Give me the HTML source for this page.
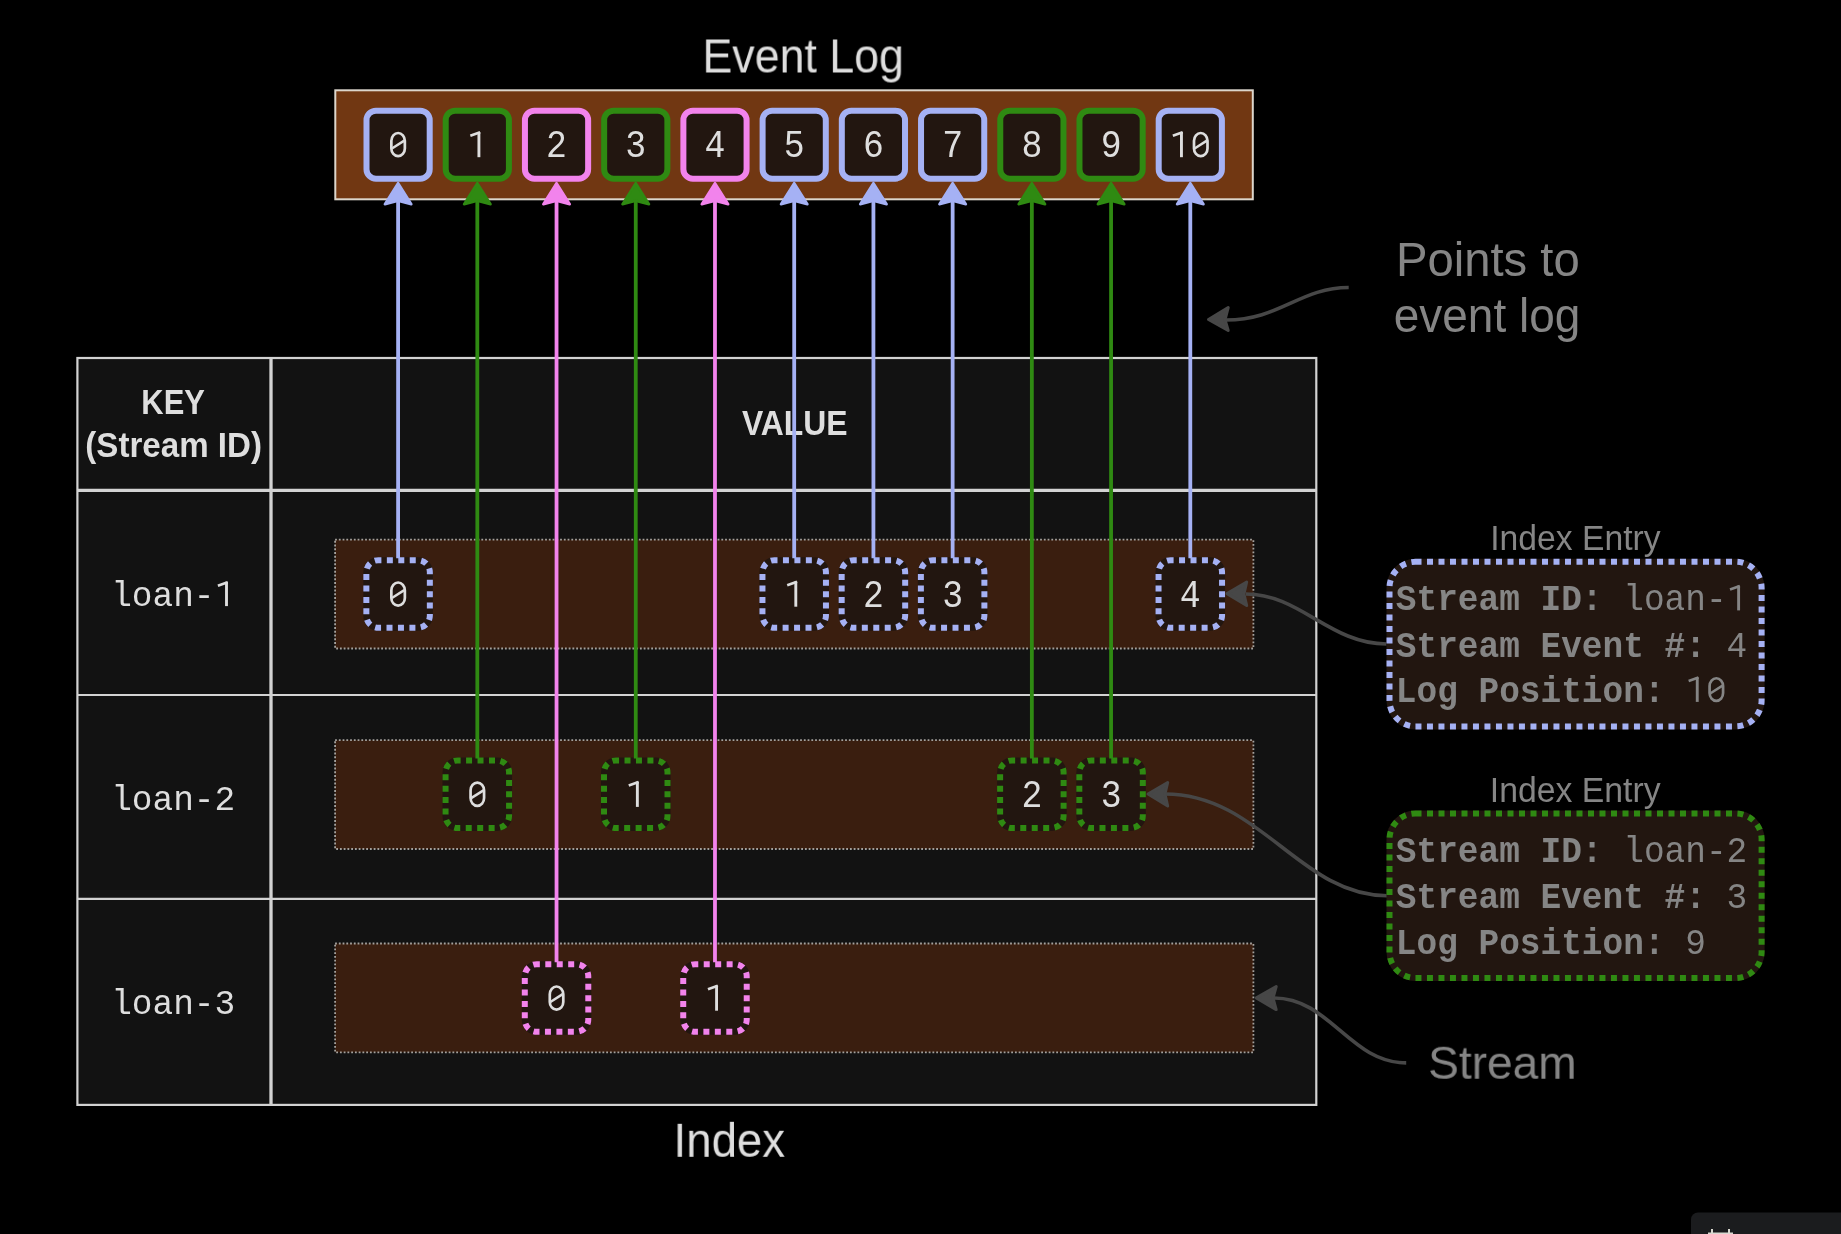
<!DOCTYPE html>
<html><head><meta charset="utf-8"><style>
html,body{margin:0;padding:0;background:#000;width:1841px;height:1234px;overflow:hidden}
svg{display:block;will-change:transform}
</style></head><body>
<svg width="1841" height="1234" viewBox="0 0 1841 1234">
<rect x="77.4" y="358" width="1238.9" height="746.9" fill="#121212"/>
<g stroke="#d2d2d2" fill="none">
<rect x="77.4" y="358" width="1238.9" height="746.9" stroke-width="2.2"/>
<line x1="271" y1="358" x2="271" y2="1105" stroke-width="3.3"/>
<line x1="77.4" y1="490.3" x2="1316.3" y2="490.3" stroke-width="3.3"/>
<line x1="77.4" y1="695" x2="1316.3" y2="695" stroke-width="2.2"/>
<line x1="77.4" y1="898.9" x2="1316.3" y2="898.9" stroke-width="2.2"/>
</g>
<text transform="matrix(0.8825 0 0 1 141.34 414.1)" x="0" y="0" style="font-family:'Liberation Sans', sans-serif;font-weight:700;font-size:35.03px" fill="#dedede">KEY</text>
<text transform="matrix(0.9458 0 0 1 85.34 456.9)" x="0" y="0" style="font-family:'Liberation Sans', sans-serif;font-weight:700;font-size:35.03px" fill="#dedede">(Stream ID)</text>
<text transform="matrix(0.9106 0 0 1 741.88 435)" x="0" y="0" style="font-family:'Liberation Sans', sans-serif;font-weight:700;font-size:35.03px" fill="#dedede">VALUE</text>
<text transform="matrix(1 0 0 1.03 111.16 606.1)" x="0" y="0" xml:space="preserve" style="font-family:'Liberation Mono', monospace;font-size:34.46px;white-space:pre" fill="#dedede"><tspan font-weight="400">loan-&#160;</tspan></text>
<path d="M226.50,581.80 V606.10" stroke="#dedede" stroke-width="2.90" fill="none"/>
<path d="M227.70,582.20 L217.90,585.70" stroke="#dedede" stroke-width="2.70" fill="none"/>
<text transform="matrix(1 0 0 1.03 111.16 810.1)" x="0" y="0" xml:space="preserve" style="font-family:'Liberation Mono', monospace;font-size:34.46px;white-space:pre" fill="#dedede"><tspan font-weight="400">loan-2</tspan></text>
<text transform="matrix(1 0 0 1.03 111.16 1014)" x="0" y="0" xml:space="preserve" style="font-family:'Liberation Mono', monospace;font-size:34.46px;white-space:pre" fill="#dedede"><tspan font-weight="400">loan-3</tspan></text>
<rect x="335.1" y="539.7" width="918.3" height="108.8" fill="#3a1e0f"/>
<rect x="335.1" y="539.7" width="918.3" height="108.8" fill="none" stroke="#a4a19d" stroke-width="1.8" stroke-dasharray="1.8 1.95"/>
<rect x="335.1" y="740.2" width="918.3" height="108.8" fill="#3a1e0f"/>
<rect x="335.1" y="740.2" width="918.3" height="108.8" fill="none" stroke="#a4a19d" stroke-width="1.8" stroke-dasharray="1.8 1.95"/>
<rect x="335.1" y="943.5" width="918.3" height="108.8" fill="#3a1e0f"/>
<rect x="335.1" y="943.5" width="918.3" height="108.8" fill="none" stroke="#a4a19d" stroke-width="1.8" stroke-dasharray="1.8 1.95"/>
<rect x="335.3" y="90.3" width="917.5" height="109" fill="#713712" stroke="#dcd6cc" stroke-width="2"/>
<rect x="366.50" y="110.7" width="63.2" height="68" rx="9.5" fill="#221610" stroke="#a5b1f4" stroke-width="6"/>
<text transform="matrix(1 0 0 1.1 387.65 157.2)" x="0" y="0" xml:space="preserve" style="font-family:'Liberation Mono', monospace;font-size:34.83px;white-space:pre" fill="#dedede"><tspan font-weight="400">&#160;</tspan></text>
<rect x="391.35" y="133.00" width="13.50" height="23.15" rx="6.75" ry="7.76" stroke="#dedede" stroke-width="2.70" fill="none"/>
<path d="M391.95,148.48 L404.25,140.68" stroke="#dedede" stroke-width="2.50" fill="none"/>
<rect x="445.72" y="110.7" width="63.2" height="68" rx="9.5" fill="#221610" stroke="#2f8a12" stroke-width="6"/>
<text transform="matrix(1 0 0 1.1 466.87 157.2)" x="0" y="0" xml:space="preserve" style="font-family:'Liberation Mono', monospace;font-size:34.83px;white-space:pre" fill="#dedede"><tspan font-weight="400">&#160;</tspan></text>
<path d="M478.92,131.95 V157.20" stroke="#dedede" stroke-width="2.90" fill="none"/>
<path d="M480.12,132.35 L470.32,135.85" stroke="#dedede" stroke-width="2.70" fill="none"/>
<rect x="524.94" y="110.7" width="63.2" height="68" rx="9.5" fill="#221610" stroke="#f283ec" stroke-width="6"/>
<text transform="matrix(1 0 0 1.1 546.09 157.2)" x="0" y="0" xml:space="preserve" style="font-family:'Liberation Mono', monospace;font-size:34.83px;white-space:pre" fill="#dedede"><tspan font-weight="400">2</tspan></text>
<rect x="604.16" y="110.7" width="63.2" height="68" rx="9.5" fill="#221610" stroke="#2f8a12" stroke-width="6"/>
<text transform="matrix(1 0 0 1.1 625.31 157.2)" x="0" y="0" xml:space="preserve" style="font-family:'Liberation Mono', monospace;font-size:34.83px;white-space:pre" fill="#dedede"><tspan font-weight="400">3</tspan></text>
<rect x="683.38" y="110.7" width="63.2" height="68" rx="9.5" fill="#221610" stroke="#f283ec" stroke-width="6"/>
<text transform="matrix(1 0 0 1.1 704.53 157.2)" x="0" y="0" xml:space="preserve" style="font-family:'Liberation Mono', monospace;font-size:34.83px;white-space:pre" fill="#dedede"><tspan font-weight="400">4</tspan></text>
<rect x="762.60" y="110.7" width="63.2" height="68" rx="9.5" fill="#221610" stroke="#a5b1f4" stroke-width="6"/>
<text transform="matrix(1 0 0 1.1 783.75 157.2)" x="0" y="0" xml:space="preserve" style="font-family:'Liberation Mono', monospace;font-size:34.83px;white-space:pre" fill="#dedede"><tspan font-weight="400">5</tspan></text>
<rect x="841.82" y="110.7" width="63.2" height="68" rx="9.5" fill="#221610" stroke="#a5b1f4" stroke-width="6"/>
<text transform="matrix(1 0 0 1.1 862.97 157.2)" x="0" y="0" xml:space="preserve" style="font-family:'Liberation Mono', monospace;font-size:34.83px;white-space:pre" fill="#dedede"><tspan font-weight="400">6</tspan></text>
<rect x="921.04" y="110.7" width="63.2" height="68" rx="9.5" fill="#221610" stroke="#a5b1f4" stroke-width="6"/>
<text transform="matrix(1 0 0 1.1 942.19 157.2)" x="0" y="0" xml:space="preserve" style="font-family:'Liberation Mono', monospace;font-size:34.83px;white-space:pre" fill="#dedede"><tspan font-weight="400">7</tspan></text>
<rect x="1000.26" y="110.7" width="63.2" height="68" rx="9.5" fill="#221610" stroke="#2f8a12" stroke-width="6"/>
<text transform="matrix(1 0 0 1.1 1021.41 157.2)" x="0" y="0" xml:space="preserve" style="font-family:'Liberation Mono', monospace;font-size:34.83px;white-space:pre" fill="#dedede"><tspan font-weight="400">8</tspan></text>
<rect x="1079.48" y="110.7" width="63.2" height="68" rx="9.5" fill="#221610" stroke="#2f8a12" stroke-width="6"/>
<text transform="matrix(1 0 0 1.1 1100.63 157.2)" x="0" y="0" xml:space="preserve" style="font-family:'Liberation Mono', monospace;font-size:34.83px;white-space:pre" fill="#dedede"><tspan font-weight="400">9</tspan></text>
<rect x="1158.70" y="110.7" width="63.2" height="68" rx="9.5" fill="#221610" stroke="#a5b1f4" stroke-width="6"/>
<text transform="matrix(1 0 0 1.1 1169.40 157.2)" x="0" y="0" xml:space="preserve" style="font-family:'Liberation Mono', monospace;font-size:34.83px;white-space:pre" fill="#dedede"><tspan font-weight="400">&#160;&#160;</tspan></text>
<path d="M1181.45,131.95 V157.20" stroke="#dedede" stroke-width="2.90" fill="none"/>
<path d="M1182.65,132.35 L1172.85,135.85" stroke="#dedede" stroke-width="2.70" fill="none"/>
<rect x="1194.00" y="133.00" width="13.50" height="23.15" rx="6.75" ry="7.76" stroke="#dedede" stroke-width="2.70" fill="none"/>
<path d="M1194.60,148.48 L1206.90,140.68" stroke="#dedede" stroke-width="2.50" fill="none"/>
<text transform="matrix(0.9468 0 0 1 702.42 72.5)" x="0" y="0" style="font-family:'Liberation Sans', sans-serif;font-weight:400;font-size:47.24px" fill="#dedede">Event Log</text>
<rect x="363.35" y="557.2" width="69.5" height="73.6" rx="15" fill="#221610"/>
<rect x="366.35" y="560.2" width="63.5" height="67.6" rx="12" fill="none" stroke="#a5b1f4" stroke-width="6" stroke-dasharray="6 5.45" stroke-dashoffset="2.95"/>
<text transform="matrix(1 0 0 1.1 387.65 606.7)" x="0" y="0" xml:space="preserve" style="font-family:'Liberation Mono', monospace;font-size:34.83px;white-space:pre" fill="#dedede"><tspan font-weight="400">&#160;</tspan></text>
<rect x="391.35" y="582.50" width="13.50" height="23.15" rx="6.75" ry="7.76" stroke="#dedede" stroke-width="2.70" fill="none"/>
<path d="M391.95,597.98 L404.25,590.18" stroke="#dedede" stroke-width="2.50" fill="none"/>
<rect x="759.45" y="557.2" width="69.5" height="73.6" rx="15" fill="#221610"/>
<rect x="762.45" y="560.2" width="63.5" height="67.6" rx="12" fill="none" stroke="#a5b1f4" stroke-width="6" stroke-dasharray="6 5.45" stroke-dashoffset="2.95"/>
<text transform="matrix(1 0 0 1.1 783.75 606.7)" x="0" y="0" xml:space="preserve" style="font-family:'Liberation Mono', monospace;font-size:34.83px;white-space:pre" fill="#dedede"><tspan font-weight="400">&#160;</tspan></text>
<path d="M795.80,581.45 V606.70" stroke="#dedede" stroke-width="2.90" fill="none"/>
<path d="M797.00,581.85 L787.20,585.35" stroke="#dedede" stroke-width="2.70" fill="none"/>
<rect x="838.67" y="557.2" width="69.5" height="73.6" rx="15" fill="#221610"/>
<rect x="841.67" y="560.2" width="63.5" height="67.6" rx="12" fill="none" stroke="#a5b1f4" stroke-width="6" stroke-dasharray="6 5.45" stroke-dashoffset="2.95"/>
<text transform="matrix(1 0 0 1.1 862.97 606.7)" x="0" y="0" xml:space="preserve" style="font-family:'Liberation Mono', monospace;font-size:34.83px;white-space:pre" fill="#dedede"><tspan font-weight="400">2</tspan></text>
<rect x="917.89" y="557.2" width="69.5" height="73.6" rx="15" fill="#221610"/>
<rect x="920.89" y="560.2" width="63.5" height="67.6" rx="12" fill="none" stroke="#a5b1f4" stroke-width="6" stroke-dasharray="6 5.45" stroke-dashoffset="2.95"/>
<text transform="matrix(1 0 0 1.1 942.19 606.7)" x="0" y="0" xml:space="preserve" style="font-family:'Liberation Mono', monospace;font-size:34.83px;white-space:pre" fill="#dedede"><tspan font-weight="400">3</tspan></text>
<rect x="1155.55" y="557.2" width="69.5" height="73.6" rx="15" fill="#221610"/>
<rect x="1158.55" y="560.2" width="63.5" height="67.6" rx="12" fill="none" stroke="#a5b1f4" stroke-width="6" stroke-dasharray="6 5.45" stroke-dashoffset="2.95"/>
<text transform="matrix(1 0 0 1.1 1179.85 606.7)" x="0" y="0" xml:space="preserve" style="font-family:'Liberation Mono', monospace;font-size:34.83px;white-space:pre" fill="#dedede"><tspan font-weight="400">4</tspan></text>
<rect x="442.57" y="757.4" width="69.5" height="73.6" rx="15" fill="#221610"/>
<rect x="445.57" y="760.4" width="63.5" height="67.6" rx="12" fill="none" stroke="#2f8a12" stroke-width="6" stroke-dasharray="6 5.45" stroke-dashoffset="2.95"/>
<text transform="matrix(1 0 0 1.1 466.87 806.9)" x="0" y="0" xml:space="preserve" style="font-family:'Liberation Mono', monospace;font-size:34.83px;white-space:pre" fill="#dedede"><tspan font-weight="400">&#160;</tspan></text>
<rect x="470.57" y="782.70" width="13.50" height="23.15" rx="6.75" ry="7.76" stroke="#dedede" stroke-width="2.70" fill="none"/>
<path d="M471.17,798.18 L483.47,790.38" stroke="#dedede" stroke-width="2.50" fill="none"/>
<rect x="601.01" y="757.4" width="69.5" height="73.6" rx="15" fill="#221610"/>
<rect x="604.01" y="760.4" width="63.5" height="67.6" rx="12" fill="none" stroke="#2f8a12" stroke-width="6" stroke-dasharray="6 5.45" stroke-dashoffset="2.95"/>
<text transform="matrix(1 0 0 1.1 625.31 806.9)" x="0" y="0" xml:space="preserve" style="font-family:'Liberation Mono', monospace;font-size:34.83px;white-space:pre" fill="#dedede"><tspan font-weight="400">&#160;</tspan></text>
<path d="M637.36,781.65 V806.90" stroke="#dedede" stroke-width="2.90" fill="none"/>
<path d="M638.56,782.05 L628.76,785.55" stroke="#dedede" stroke-width="2.70" fill="none"/>
<rect x="997.11" y="757.4" width="69.5" height="73.6" rx="15" fill="#221610"/>
<rect x="1000.11" y="760.4" width="63.5" height="67.6" rx="12" fill="none" stroke="#2f8a12" stroke-width="6" stroke-dasharray="6 5.45" stroke-dashoffset="2.95"/>
<text transform="matrix(1 0 0 1.1 1021.41 806.9)" x="0" y="0" xml:space="preserve" style="font-family:'Liberation Mono', monospace;font-size:34.83px;white-space:pre" fill="#dedede"><tspan font-weight="400">2</tspan></text>
<rect x="1076.33" y="757.4" width="69.5" height="73.6" rx="15" fill="#221610"/>
<rect x="1079.33" y="760.4" width="63.5" height="67.6" rx="12" fill="none" stroke="#2f8a12" stroke-width="6" stroke-dasharray="6 5.45" stroke-dashoffset="2.95"/>
<text transform="matrix(1 0 0 1.1 1100.63 806.9)" x="0" y="0" xml:space="preserve" style="font-family:'Liberation Mono', monospace;font-size:34.83px;white-space:pre" fill="#dedede"><tspan font-weight="400">3</tspan></text>
<rect x="521.79" y="961.2" width="69.5" height="73.6" rx="15" fill="#221610"/>
<rect x="524.79" y="964.2" width="63.5" height="67.6" rx="12" fill="none" stroke="#f283ec" stroke-width="6" stroke-dasharray="6 5.45" stroke-dashoffset="2.95"/>
<text transform="matrix(1 0 0 1.1 546.09 1010.7)" x="0" y="0" xml:space="preserve" style="font-family:'Liberation Mono', monospace;font-size:34.83px;white-space:pre" fill="#dedede"><tspan font-weight="400">&#160;</tspan></text>
<rect x="549.79" y="986.50" width="13.50" height="23.15" rx="6.75" ry="7.76" stroke="#dedede" stroke-width="2.70" fill="none"/>
<path d="M550.39,1001.98 L562.69,994.18" stroke="#dedede" stroke-width="2.50" fill="none"/>
<rect x="680.23" y="961.2" width="69.5" height="73.6" rx="15" fill="#221610"/>
<rect x="683.23" y="964.2" width="63.5" height="67.6" rx="12" fill="none" stroke="#f283ec" stroke-width="6" stroke-dasharray="6 5.45" stroke-dashoffset="2.95"/>
<text transform="matrix(1 0 0 1.1 704.53 1010.7)" x="0" y="0" xml:space="preserve" style="font-family:'Liberation Mono', monospace;font-size:34.83px;white-space:pre" fill="#dedede"><tspan font-weight="400">&#160;</tspan></text>
<path d="M716.58,985.45 V1010.70" stroke="#dedede" stroke-width="2.90" fill="none"/>
<path d="M717.78,985.85 L707.98,989.35" stroke="#dedede" stroke-width="2.70" fill="none"/>
<line x1="398.1" y1="558.2" x2="398.1" y2="200" stroke="#a5b1f4" stroke-width="3.8"/>
<polygon points="398.1,183.2 384.90000000000003,204.2 398.1,200.8 411.3,204.2" fill="#a5b1f4" stroke="#a5b1f4" stroke-width="2.6" stroke-linejoin="round"/>
<line x1="794.2" y1="558.2" x2="794.2" y2="200" stroke="#a5b1f4" stroke-width="3.8"/>
<polygon points="794.2,183.2 781.0,204.2 794.2,200.8 807.4000000000001,204.2" fill="#a5b1f4" stroke="#a5b1f4" stroke-width="2.6" stroke-linejoin="round"/>
<line x1="873.4200000000001" y1="558.2" x2="873.4200000000001" y2="200" stroke="#a5b1f4" stroke-width="3.8"/>
<polygon points="873.4200000000001,183.2 860.22,204.2 873.4200000000001,200.8 886.6200000000001,204.2" fill="#a5b1f4" stroke="#a5b1f4" stroke-width="2.6" stroke-linejoin="round"/>
<line x1="952.64" y1="558.2" x2="952.64" y2="200" stroke="#a5b1f4" stroke-width="3.8"/>
<polygon points="952.64,183.2 939.4399999999999,204.2 952.64,200.8 965.84,204.2" fill="#a5b1f4" stroke="#a5b1f4" stroke-width="2.6" stroke-linejoin="round"/>
<line x1="1190.3000000000002" y1="558.2" x2="1190.3000000000002" y2="200" stroke="#a5b1f4" stroke-width="3.8"/>
<polygon points="1190.3000000000002,183.2 1177.1000000000001,204.2 1190.3000000000002,200.8 1203.5000000000002,204.2" fill="#a5b1f4" stroke="#a5b1f4" stroke-width="2.6" stroke-linejoin="round"/>
<line x1="477.32000000000005" y1="758.4" x2="477.32000000000005" y2="200" stroke="#2f8a12" stroke-width="3.8"/>
<polygon points="477.32000000000005,183.2 464.12000000000006,204.2 477.32000000000005,200.8 490.52000000000004,204.2" fill="#2f8a12" stroke="#2f8a12" stroke-width="2.6" stroke-linejoin="round"/>
<line x1="635.76" y1="758.4" x2="635.76" y2="200" stroke="#2f8a12" stroke-width="3.8"/>
<polygon points="635.76,183.2 622.56,204.2 635.76,200.8 648.96,204.2" fill="#2f8a12" stroke="#2f8a12" stroke-width="2.6" stroke-linejoin="round"/>
<line x1="1031.8600000000001" y1="758.4" x2="1031.8600000000001" y2="200" stroke="#2f8a12" stroke-width="3.8"/>
<polygon points="1031.8600000000001,183.2 1018.6600000000001,204.2 1031.8600000000001,200.8 1045.0600000000002,204.2" fill="#2f8a12" stroke="#2f8a12" stroke-width="2.6" stroke-linejoin="round"/>
<line x1="1111.08" y1="758.4" x2="1111.08" y2="200" stroke="#2f8a12" stroke-width="3.8"/>
<polygon points="1111.08,183.2 1097.8799999999999,204.2 1111.08,200.8 1124.28,204.2" fill="#2f8a12" stroke="#2f8a12" stroke-width="2.6" stroke-linejoin="round"/>
<line x1="556.54" y1="962.2" x2="556.54" y2="200" stroke="#f283ec" stroke-width="3.8"/>
<polygon points="556.54,183.2 543.3399999999999,204.2 556.54,200.8 569.74,204.2" fill="#f283ec" stroke="#f283ec" stroke-width="2.6" stroke-linejoin="round"/>
<line x1="714.98" y1="962.2" x2="714.98" y2="200" stroke="#f283ec" stroke-width="3.8"/>
<polygon points="714.98,183.2 701.78,204.2 714.98,200.8 728.1800000000001,204.2" fill="#f283ec" stroke="#f283ec" stroke-width="2.6" stroke-linejoin="round"/>
<path d="M1348.7,287.5 C1300,287.5 1280,320 1226,320" fill="none" stroke="#474747" stroke-width="3.6"/>
<polygon points="1208.5,319.5 1228.2,307.5 1225,319.8 1228.2,330.5" fill="#474747" stroke="#474747" stroke-width="3" stroke-linejoin="round"/>
<path d="M1386.5,644 C1330,644 1300,594 1246,594" fill="none" stroke="#474747" stroke-width="3.6"/>
<polygon points="1227,593.6 1246.7,582 1244,594 1246.7,605.5" fill="#474747" stroke="#474747" stroke-width="3" stroke-linejoin="round"/>
<path d="M1387,895.7 C1300,895.7 1260,794 1165,794" fill="none" stroke="#474747" stroke-width="3.6"/>
<polygon points="1148,794 1167.7,782.5 1165,794 1167.7,806" fill="#474747" stroke="#474747" stroke-width="3" stroke-linejoin="round"/>
<path d="M1406.2,1062.9 C1350,1062.9 1330,998 1274,998" fill="none" stroke="#474747" stroke-width="3.6"/>
<polygon points="1256.3,997.9 1276.2,986.6 1273,998 1276.2,1009.6" fill="#474747" stroke="#474747" stroke-width="3" stroke-linejoin="round"/>
<text transform="matrix(0.9939 0 0 1 1395.92 275.6)" x="0" y="0" style="font-family:'Liberation Sans', sans-serif;font-weight:400;font-size:47.53px" fill="#858585">Points to</text>
<text transform="matrix(0.9678 0 0 1 1393.66 331.8)" x="0" y="0" style="font-family:'Liberation Sans', sans-serif;font-weight:400;font-size:47.53px" fill="#858585">event log</text>
<text transform="matrix(0.9612 0 0 1 1490.27 550)" x="0" y="0" style="font-family:'Liberation Sans', sans-serif;font-weight:400;font-size:35.03px" fill="#858585">Index Entry</text>
<rect x="1386.5" y="558.8" width="378.1" height="170.6" rx="29" fill="#221610"/>
<rect x="1389.5" y="561.8" width="372.1" height="164.6" rx="26" fill="none" stroke="#a5b1f4" stroke-width="6" stroke-dasharray="6 5.5"/>
<text transform="matrix(1 0 0 1.088 1395.80 610.4)" x="0" y="0" xml:space="preserve" style="font-family:'Liberation Mono', monospace;font-size:34.46px;white-space:pre" fill="#858585"><tspan font-weight="700">Stream ID:</tspan><tspan font-weight="400"> loan-&#160;</tspan></text>
<path d="M1738.61,585.69 V610.40" stroke="#858585" stroke-width="2.90" fill="none"/>
<path d="M1739.81,586.09 L1730.01,589.59" stroke="#858585" stroke-width="2.70" fill="none"/>
<text transform="matrix(1 0 0 1.088 1395.80 656.6)" x="0" y="0" xml:space="preserve" style="font-family:'Liberation Mono', monospace;font-size:34.46px;white-space:pre" fill="#858585"><tspan font-weight="700">Stream Event #:</tspan><tspan font-weight="400"> 4</tspan></text>
<text transform="matrix(1 0 0 1.088 1395.80 701.9)" x="0" y="0" xml:space="preserve" style="font-family:'Liberation Mono', monospace;font-size:34.46px;white-space:pre" fill="#858585"><tspan font-weight="700">Log Position:</tspan><tspan font-weight="400"> &#160;&#160;</tspan></text>
<path d="M1697.25,677.19 V701.90" stroke="#858585" stroke-width="2.90" fill="none"/>
<path d="M1698.45,677.59 L1688.65,681.09" stroke="#858585" stroke-width="2.70" fill="none"/>
<rect x="1709.58" y="678.24" width="13.50" height="22.61" rx="6.75" ry="7.76" stroke="#858585" stroke-width="2.70" fill="none"/>
<path d="M1710.18,693.45 L1722.48,685.65" stroke="#858585" stroke-width="2.50" fill="none"/>
<text transform="matrix(0.9641 0 0 1 1489.76 801.7)" x="0" y="0" style="font-family:'Liberation Sans', sans-serif;font-weight:400;font-size:35.03px" fill="#858585">Index Entry</text>
<rect x="1386.5" y="810.4" width="378.1" height="170.6" rx="29" fill="#221610"/>
<rect x="1389.5" y="813.4" width="372.1" height="164.6" rx="26" fill="none" stroke="#2f8a12" stroke-width="6" stroke-dasharray="6 5.5"/>
<text transform="matrix(1 0 0 1.088 1395.80 861.7)" x="0" y="0" xml:space="preserve" style="font-family:'Liberation Mono', monospace;font-size:34.46px;white-space:pre" fill="#858585"><tspan font-weight="700">Stream ID:</tspan><tspan font-weight="400"> loan-2</tspan></text>
<text transform="matrix(1 0 0 1.088 1395.80 908.4)" x="0" y="0" xml:space="preserve" style="font-family:'Liberation Mono', monospace;font-size:34.46px;white-space:pre" fill="#858585"><tspan font-weight="700">Stream Event #:</tspan><tspan font-weight="400"> 3</tspan></text>
<text transform="matrix(1 0 0 1.088 1395.80 954)" x="0" y="0" xml:space="preserve" style="font-family:'Liberation Mono', monospace;font-size:34.46px;white-space:pre" fill="#858585"><tspan font-weight="700">Log Position:</tspan><tspan font-weight="400"> 9</tspan></text>
<text transform="matrix(0.9852 0 0 1 1428.09 1078.7)" x="0" y="0" style="font-family:'Liberation Sans', sans-serif;font-weight:400;font-size:46.80px" fill="#858585">Stream</text>
<text transform="matrix(0.9594 0 0 1 673.50 1156.8)" x="0" y="0" style="font-family:'Liberation Sans', sans-serif;font-weight:400;font-size:47.53px" fill="#dedede">Index</text>
<rect x="1691" y="1212.5" width="200" height="60" rx="7" fill="#1b1c1e"/>
<g stroke="#d8d8d0" stroke-width="2" fill="none"><line x1="1708" y1="1234" x2="1733" y2="1234" stroke-width="3"/><line x1="1712" y1="1229" x2="1712" y2="1234"/><line x1="1729" y1="1229" x2="1729" y2="1234"/></g>
</svg>
</body></html>
